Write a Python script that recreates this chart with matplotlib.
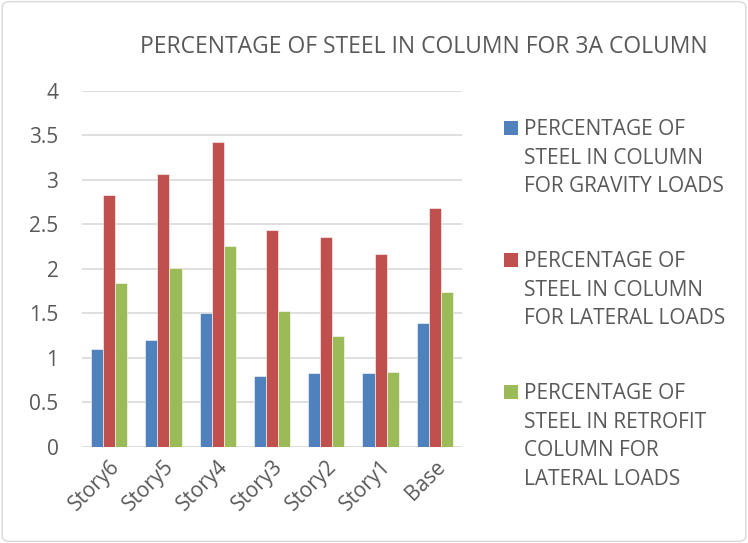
import matplotlib
matplotlib.use("Agg")
import matplotlib.pyplot as plt
import numpy as np
from matplotlib.patches import Rectangle, FancyBboxPatch

categories = ["Story6", "Story5", "Story4", "Story3", "Story2", "Story1", "Base"]
gravity = [1.10, 1.20, 1.50, 0.79, 0.83, 0.83, 1.39]
lateral = [2.83, 3.06, 3.42, 2.43, 2.36, 2.16, 2.68]
retrofit = [1.84, 2.01, 2.25, 1.52, 1.24, 0.84, 1.74]
series_labels = [
    ["PERCENTAGE OF", "STEEL IN COLUMN", "FOR GRAVITY LOADS"],
    ["PERCENTAGE OF", "STEEL IN COLUMN", "FOR LATERAL LOADS"],
    ["PERCENTAGE OF", "STEEL IN RETROFIT", "COLUMN FOR", "LATERAL LOADS"],
]
yticks = [0, 0.5, 1, 1.5, 2, 2.5, 3, 3.5, 4]
title = "PERCENTAGE OF STEEL IN COLUMN FOR 3A COLUMN"

colors = ["#4F81BD", "#C0504D", "#9BBB59"]
txtc = "#595959"
font = "Open Sans"
W, H = 748, 543

fig = plt.figure(figsize=(7.48, 5.43), dpi=100)
fig.patches.append(FancyBboxPatch((0.003, 0.003), 0.994, 0.994, boxstyle="round,pad=0,rounding_size=0.01",
                                  transform=fig.transFigure, fill=False, edgecolor="#d9d9d9", linewidth=1))
ax = fig.add_axes([82 / W, 1 - 446.7 / H, 380 / W, 356 / H])

x = np.arange(len(categories))
w = 0.223
for i, vals in enumerate([gravity, lateral, retrofit]):
    ax.bar(x + (i - 1) * w, vals, width=w, color=colors[i], edgecolor="white", linewidth=0.4, zorder=3)

ax.set_xlim(-0.5, len(categories) - 0.5)
ax.set_ylim(0, 4)
ax.set_yticks(yticks)
ax.set_yticklabels([f"{t:g}" for t in yticks], fontsize=15, color=txtc, family=font)
ax.grid(axis="y", color="#d9d9d9", linewidth=1.2, zorder=0)
for s in ax.spines.values():
    s.set_visible(False)
ax.tick_params(axis="both", length=0)
ax.tick_params(axis="y", pad=17)
ax.set_xticks(x)
ax.set_xticklabels(categories, rotation=45, ha="right", rotation_mode="anchor",
                   fontsize=15, color=txtc, family=font)
ax.tick_params(axis="x", pad=7)

fig.text(424 / W, 1 - 47 / H, title, ha="center", va="center", fontsize=16.5, color=txtc, family=font)

# legend
first_centers = [128, 260, 392]
spacing = 28.5
fs = 15
cap = fs * 100 / 72 * 0.714
for i, lines in enumerate(series_labels):
    c0 = first_centers[i]
    fig.patches.append(Rectangle((504 / W, 1 - (c0 + 6.7) / H), 14 / W, 13.4 / H,
                                 transform=fig.transFigure, facecolor=colors[i], edgecolor="none"))
    for j, line in enumerate(lines):
        cy = c0 + j * spacing
        fig.text(524 / W, 1 - (cy + cap / 2) / H, line, ha="left", va="baseline", fontsize=fs,
                 color=txtc, family=font)

fig.savefig("out.png", dpi=100)
